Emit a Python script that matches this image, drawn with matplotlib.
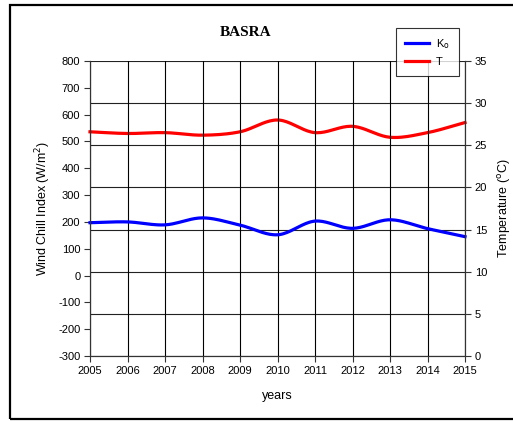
import matplotlib
matplotlib.use("Agg")
import matplotlib.pyplot as plt
import numpy as np
from matplotlib.patches import Rectangle
from matplotlib.lines import Line2D

# Data
years = [2005, 2006, 2007, 2008, 2009, 2010, 2011, 2012, 2013, 2014, 2015]
wind_chill = [197, 200, 189, 215, 188, 152, 203, 176, 208, 175, 145]   # W/m^2 (left axis)
temperature = [26.6, 26.4, 26.5, 26.2, 26.6, 28.0, 26.5, 27.25, 25.95, 26.5, 27.7]  # degC (right axis)

plt.rcParams['font.family'] = ['Liberation Sans', 'DejaVu Sans']
plt.rcParams['axes.unicode_minus'] = False


def smooth(x, y, n=20):
    # Catmull-Rom style curve through the points (like Excel's smoothed line)
    x = np.asarray(x, float)
    y = np.asarray(y, float)
    px = np.concatenate([[2 * x[0] - x[1]], x, [2 * x[-1] - x[-2]]])
    py = np.concatenate([[2 * y[0] - y[1]], y, [2 * y[-1] - y[-2]]])
    xs, ys = [], []
    t = np.linspace(0, 1, n, endpoint=False)
    for i in range(1, len(px) - 2):
        for arr, out in ((px, xs), (py, ys)):
            p0, p1, p2, p3 = arr[i - 1], arr[i], arr[i + 1], arr[i + 2]
            out.extend(0.5 * ((2 * p1) + (-p0 + p2) * t
                              + (2 * p0 - 5 * p1 + 4 * p2 - p3) * t ** 2
                              + (-p0 + 3 * p1 - 3 * p2 + p3) * t ** 3))
    xs.append(x[-1])
    ys.append(y[-1])
    return np.array(xs), np.array(ys)


fig = plt.figure(figsize=(5.13, 4.21), dpi=100)
ax = fig.add_axes([90 / 513, 1 - 356 / 421, 375 / 513, 295 / 421])
ax2 = ax.twinx()

# outer frame
fig.patches.append(Rectangle((10 / 513, 2 / 421), 505 / 513, 414 / 421, transform=fig.transFigure,
                             fill=False, edgecolor='black', linewidth=1.6))

ax.set_xlim(2005, 2015)
ax.set_ylim(-300, 800)
ax.set_yticks(np.arange(-300, 801, 100))
ax.set_xticks(years)
ax.xaxis.grid(True, color='black', linewidth=0.8)

ax2.set_ylim(0, 35)
ax2.set_yticks(np.arange(0, 36, 5))
ax2.yaxis.grid(True, color='#222222', linewidth=0.8)

ax.set_zorder(ax2.get_zorder() + 1)
ax.patch.set_visible(False)

for a in (ax, ax2):
    a.spines['top'].set_visible(False)
    a.spines['left'].set_color('#333333')
    a.spines['right'].set_color('#333333')
    a.spines['bottom'].set_color('#333333')
    a.tick_params(labelsize=8, length=4, width=0.8, color='#333333', pad=3)

xs, ys = smooth(years, wind_chill)
ax.plot(xs, ys, color='#0000ff', linewidth=2.3, clip_on=False)
xt, yt = smooth(years, temperature)
ax2.plot(xt, yt, color='#ff0000', linewidth=2.3, clip_on=False)

ax.set_xlabel('years', fontsize=9, va='center')
ax.xaxis.set_label_coords(0.5, -40 / 295)
ax.set_ylabel('Wind Chill Index (W/m$^2$)', fontsize=9, va='center')
ax.yaxis.set_label_coords(-47 / 375, 0.5)
ax2.set_ylabel('Temperature ($^\\mathrm{o}$C)', fontsize=9, va='center', rotation=90)
ax2.yaxis.set_label_coords(415 / 375, 0.5)

fig.text(246 / 513, 1 - 32 / 421, 'BASRA', fontsize=11, fontweight='bold',
         family='Liberation Serif', ha='center', va='center')

handles = [Line2D([0], [0], color='#0000ff', linewidth=2.3),
           Line2D([0], [0], color='#ff0000', linewidth=2.3)]
leg = fig.legend(handles, ['K$_\\mathrm{o}$', 'T'], loc='upper left',
                 bbox_to_anchor=(396 / 513, 1 - 28 / 421), fontsize=8,
                 frameon=True, fancybox=False, handlelength=2.2,
                 borderpad=0.8, labelspacing=0.6, handletextpad=0.6,
                 borderaxespad=0)
leg.get_frame().set_edgecolor('black')
leg.get_frame().set_linewidth(0.8)

fig.savefig('out.png', dpi=100)
